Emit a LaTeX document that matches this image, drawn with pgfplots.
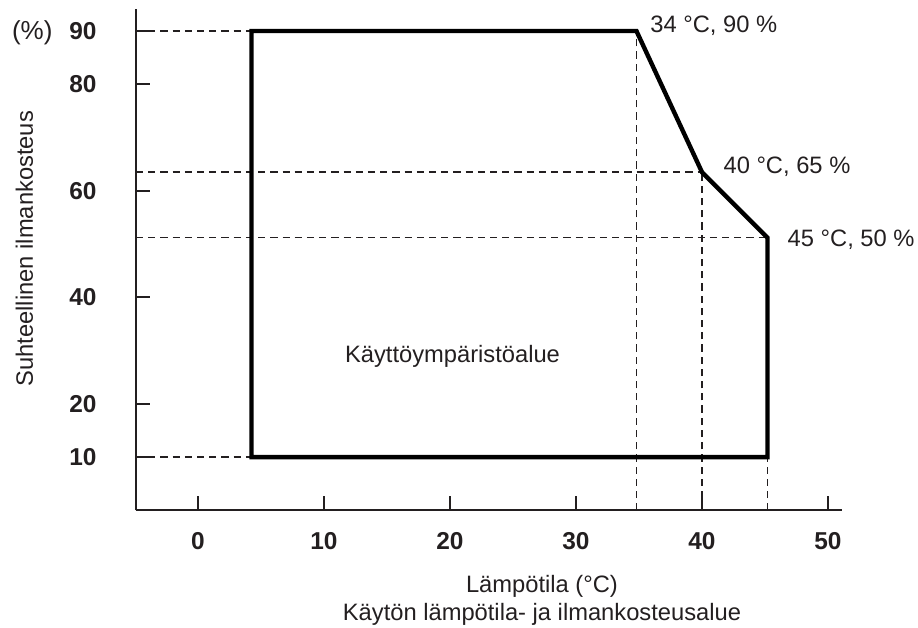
\documentclass[border=0pt]{standalone}
\usepackage{fontspec}
\setmainfont{Liberation Sans}
\usepackage{pgfplots}
\pgfplotsset{compat=1.18}
\definecolor{ink}{RGB}{35,31,32}
\begin{document}
\begin{tikzpicture}[font=\fontsize{11.85}{14}\selectfont, text=ink]
\begin{axis}[
  scale only axis, width=353pt, height=250.35pt,
  xmin=-4.92, xmax=51.15, ymin=0, ymax=94.08,
  axis x line=bottom, axis y line=left,
  axis line style={-, line width=1pt, ink},
  xtick={0,10,20,30,40,50}, ytick={10,20,40,60,80,90},
  tick align=inside, major tick length=7pt,
  tick style={line width=1pt, ink},
  ticklabel style={font=\fontsize{12.2}{14}\selectfont\bfseries, text=ink},
  /pgf/number format/assume math mode=true,
  xticklabel style={inner sep=0pt, anchor=north, yshift=-11pt},
  yticklabel style={inner sep=0pt, anchor=east, xshift=-19.5pt},
  clip=false,
]
% dashed guide lines
\pgfplotsset{guide/.style={line width=0.75pt, dash pattern=on 3.6pt off 2.5pt, ink}}
\addplot[guide] coordinates {(-4.92,90) (4.25,90)};
\addplot[guide] coordinates {(-4.92,10) (4.25,10)};
\addplot[guide] coordinates {(-4.92,63.5) (40,63.5)};
\addplot[guide] coordinates {(-4.92,51.2) (45.2,51.2)};
\addplot[guide] coordinates {(34.8,0) (34.8,90)};
\addplot[guide] coordinates {(40,0) (40,63.5)};
\addplot[guide] coordinates {(45.2,0) (45.2,10)};
% operating region
\addplot[line width=2.2pt, black, line join=miter] coordinates {(4.25,10) (4.25,90) (34.8,90) (40,63.5) (45.2,51.2) (45.2,10) (4.25,10) (4.25,90)};
% labels
\node[anchor=base west, inner sep=0pt] at (axis cs:35.87,89.76) {34 °C, 90 \%};
\node[anchor=base west, inner sep=0pt] at (axis cs:41.68,63.26) {40 °C, 65 \%};
\node[anchor=base west, inner sep=0pt] at (axis cs:46.77,49.55) {45 °C, 50 \%};
\node[anchor=base west, inner sep=0pt, font=\fontsize{13}{15}\selectfont] at (axis cs:-14.79,88.42) {(\%)};
\node[anchor=base, inner sep=0pt] at (axis cs:20.2,27.85) {Käyttöympäristöalue};
\node[anchor=base, inner sep=0pt, rotate=90] at (axis cs:-13.10,49.13) {Suhteellinen ilmankosteus};
\node[anchor=base, inner sep=0pt] at (axis cs:27.3,-15.49) {Lämpötila (°C)};
\node[anchor=base, inner sep=0pt] at (axis cs:27.3,-20.69) {Käytön lämpötila- ja ilmankosteusalue};
\coordinate (BL) at (axis cs:-15.714,-22.01);
\coordinate (TR) at (axis cs:57.143,95.83);
\end{axis}
\pgfresetboundingbox
\path[use as bounding box] (BL) rectangle (TR);
\end{tikzpicture}
\end{document}
